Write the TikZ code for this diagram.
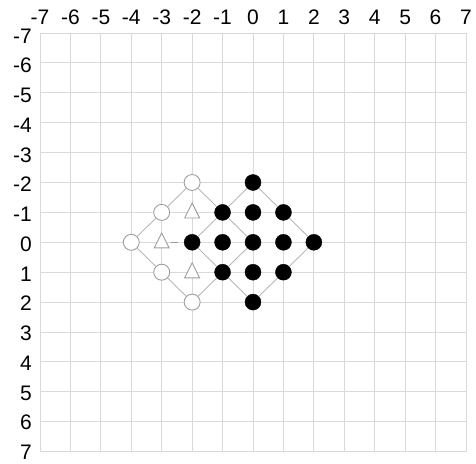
\documentclass[tikz,border=0pt]{standalone}
\usepackage{fontspec}
\setmainfont{Liberation Sans}
\usetikzlibrary{shapes.geometric}
\begin{document}
\begin{tikzpicture}[x=30.43pt,y=-29.9pt,
  gridline/.style={draw=black!15,line width=0.9pt},
  edge/.style={draw=black!28,line width=0.9pt},
  dot/.style={circle,fill=black,draw=black,minimum size=16pt,inner sep=0pt},
  hollow/.style={circle,fill=white,draw=black!38,line width=0.9pt,minimum size=16pt,inner sep=0pt},
  tri/.style={isosceles triangle,isosceles triangle stretches=true,shape border rotate=90,minimum width=15pt,minimum height=15pt,fill=white,draw=black!38,line width=0.9pt,inner sep=0pt,yshift=-1pt},
  lab/.style={inner sep=0pt,font=\fontsize{21}{23}\selectfont}]
\useasboundingbox (-253pt,242.3pt) rectangle (223pt,-220.7pt);
% grid
\foreach \i in {-7,...,7}{
  \draw[gridline] (\i,-7) -- (\i,7);
  \draw[gridline] (-7,\i) -- (7,\i);
}
% labels
\foreach \i in {-7,...,7}{
  \node[lab,anchor=base] (top\i) at ({\i*30.43pt},217.3pt) {\i};
  \node[lab,anchor=east] (left\i) at (-221pt,{242.3pt-35.8pt-(\i+7)*29.76pt}) {\i};
}
% black dots
\node[dot] (b0m2) at (0,-2) {};
\node[dot] (bm1m1) at (-1,-1) {};
\node[dot] (b0m1) at (0,-1) {};
\node[dot] (b1m1) at (1,-1) {};
\node[dot] (bm20) at (-2,0) {};
\node[dot] (bm10) at (-1,0) {};
\node[dot] (b00) at (0,0) {};
\node[dot] (b10) at (1,0) {};
\node[dot] (b20) at (2,0) {};
\node[dot] (bm11) at (-1,1) {};
\node[dot] (b01) at (0,1) {};
\node[dot] (b11) at (1,1) {};
\node[dot] (b02) at (0,2) {};
% hollow circles
\node[hollow] (hm2m2) at (-2,-2) {};
\node[hollow] (hm3m1) at (-3,-1) {};
\node[hollow] (hm40) at (-4,0) {};
\node[hollow] (hm31) at (-3,1) {};
\node[hollow] (hm22) at (-2,2) {};
% triangles
\node[tri] (tm2m1) at (-2,-1) {};
\node[tri] (tm30) at (-3,0) {};
\node[tri] (tm21) at (-2,1) {};
% edges: black diamond
\draw[edge] (b0m2) -- (b1m1);
\draw[edge] (b1m1) -- (b20);
\draw[edge] (b20) -- (b11);
\draw[edge] (b11) -- (b02);
\draw[edge] (b02) -- (bm11);
\draw[edge] (bm11) -- (bm20);
\draw[edge] (bm20) -- (bm1m1);
\draw[edge] (bm1m1) -- (b0m2);
% edges: gray diamond
\draw[edge] (hm2m2) -- (hm3m1);
\draw[edge] (hm3m1) -- (hm40);
\draw[edge] (hm40) -- (hm31);
\draw[edge] (hm31) -- (hm22);
\draw[edge] (hm22) -- (bm11);
\draw[edge] (bm11) -- (b00);
\draw[edge] (b00) -- (bm1m1);
\draw[edge] (bm1m1) -- (hm2m2);
% short dash
\coordinate (dA) at (-2.695,0);
\coordinate (dB) at (-2.465,0);
\draw[edge,draw=black!40] (dA) -- (dB);
\end{tikzpicture}
\end{document}
